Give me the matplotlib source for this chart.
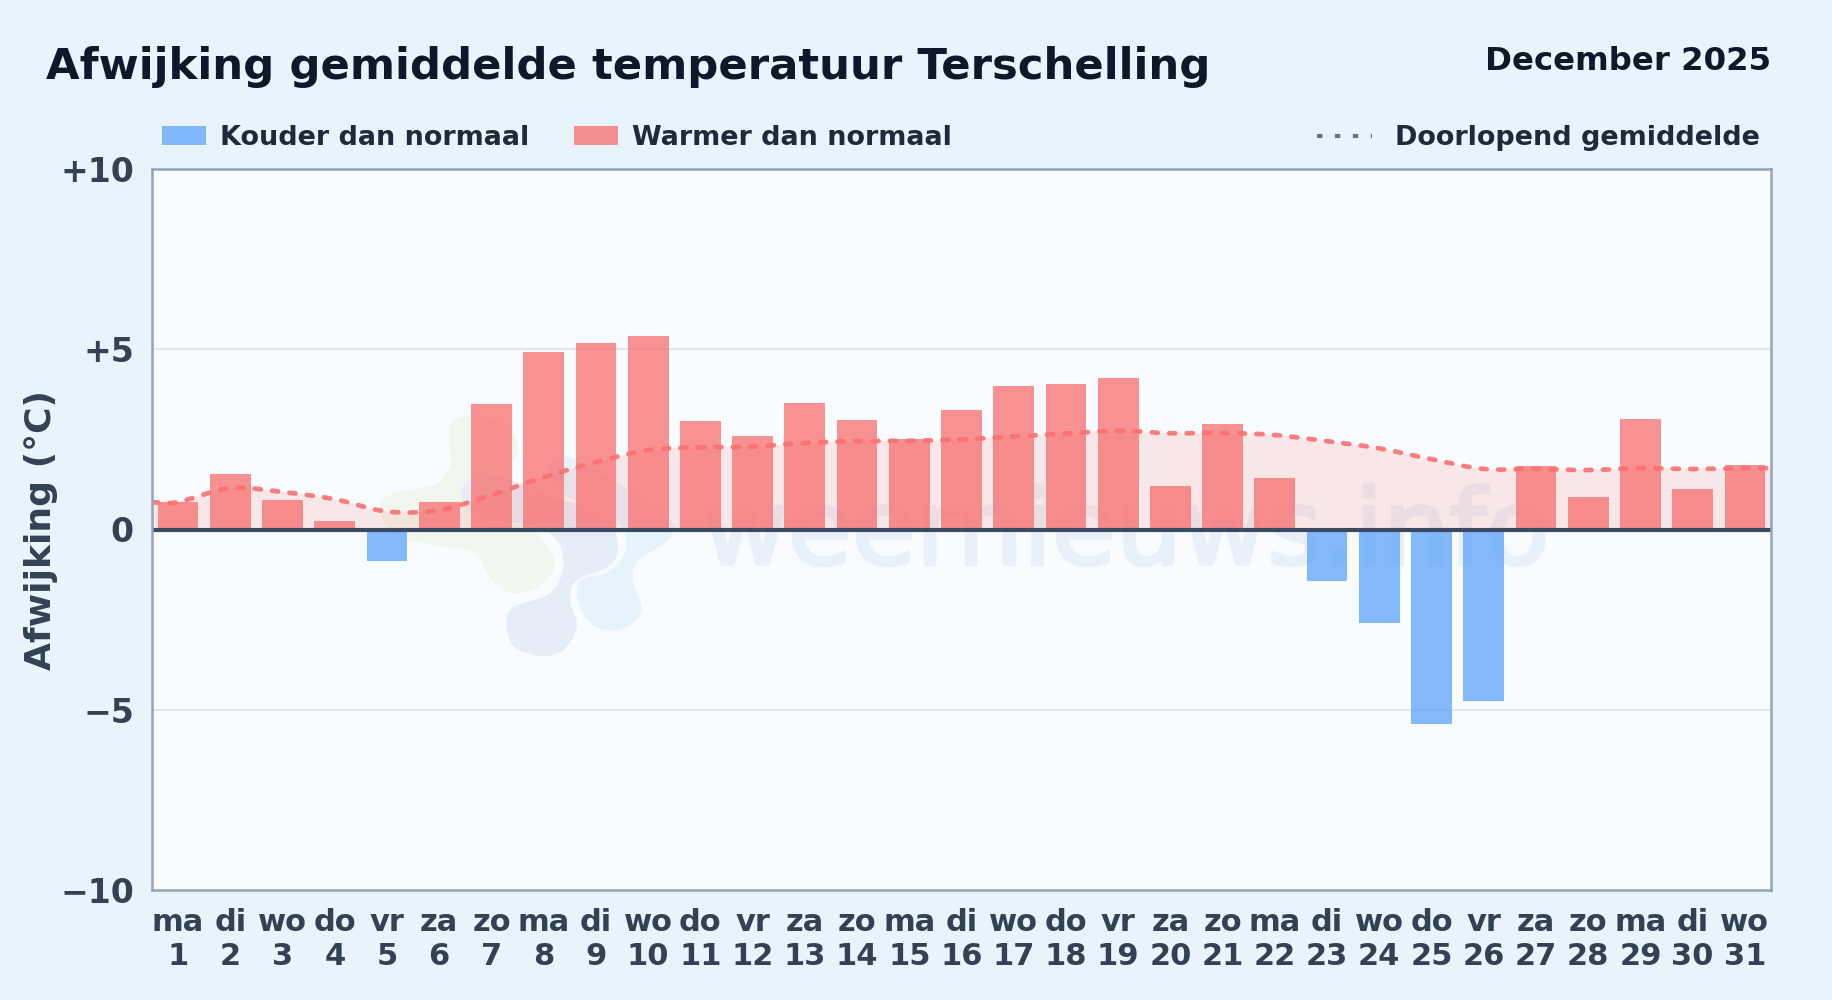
import matplotlib
matplotlib.use('Agg')
import matplotlib.pyplot as plt
import matplotlib.patheffects as pe
from matplotlib.lines import Line2D
from matplotlib.patches import Patch, PathPatch
from matplotlib.path import Path

days = ['ma', 'di', 'wo', 'do', 'vr', 'za', 'zo', 'ma', 'di', 'wo', 'do', 'vr', 'za', 'zo', 'ma', 'di',
        'wo', 'do', 'vr', 'za', 'zo', 'ma', 'di', 'wo', 'do', 'vr', 'za', 'zo', 'ma', 'di', 'wo']
dates = list(range(1, 32))

# afwijking per dag
deviation = [0.76, 1.54, 0.83, 0.24, -0.86, 0.76, 3.48, 4.91, 5.18, 5.36, 3.01, 2.59, 3.52, 3.05, 2.51, 3.32,
             3.99, 4.03, 4.20, 1.22, 2.92, 1.44, -1.44, -2.60, -5.40, -4.75, 1.77, 0.89, 3.06, 1.12, 1.80]

# doorlopend gemiddelde
running = [0.76, 1.15, 1.04, 0.84, 0.50, 0.54, 0.96, 1.45, 1.87, 2.20, 2.28, 2.30, 2.40, 2.45, 2.46, 2.50,
           2.58, 2.66, 2.74, 2.67, 2.68, 2.62, 2.45, 2.25, 1.95, 1.68, 1.68, 1.65, 1.70, 1.68, 1.70]

y_ticks = [-10, -5, 0, 5, 10]
y_labels = ['\u221210', '\u22125', '0', '+5', '+10']

BLUE = '#60A5FA'
RED = '#F87171'
TEXT_DARK = '#0F172A'
TEXT_LEGEND = '#1E293B'
TEXT_AXIS = '#334155'

W, H = 1832, 1000


def smooth_vertices(xs, ys):
    # catmull-rom door de punten, als bezier segmenten
    verts = [(xs[0], ys[0])]
    codes = [Path.MOVETO]
    for i in range(len(xs) - 1):
        x0, y0 = xs[max(i - 1, 0)], ys[max(i - 1, 0)]
        x3, y3 = xs[min(i + 2, len(xs) - 1)], ys[min(i + 2, len(xs) - 1)]
        verts += [(xs[i] + (xs[i + 1] - x0) / 6, ys[i] + (ys[i + 1] - y0) / 6),
                  (xs[i + 1] - (x3 - xs[i]) / 6, ys[i + 1] - (y3 - ys[i]) / 6),
                  (xs[i + 1], ys[i + 1])]
        codes += [Path.CURVE4] * 3
    return verts, codes


def blob(points, color):
    # logo in de achtergrond, punten als pixels in de zoom-uitsnede
    pts = [(300 + px / 2.24, 380 + py / 3) for px, py in points]
    pts = pts[-1:] + pts + pts[:2]
    xs = [p[0] / W for p in pts]
    ys = [1 - p[1] / H for p in pts]
    verts, codes = smooth_vertices(xs, ys)
    patch = PathPatch(Path(verts[3:-3], [Path.MOVETO] + codes[4:-3]), transform=fig.transFigure,
                      facecolor=color, edgecolor='none', zorder=1.2)
    ax.add_patch(patch)


fig = plt.figure(figsize=(W / 100, H / 100), dpi=100, facecolor='#E8F3FC')
ax = fig.add_axes([152 / W, 1 - 890 / H, 1619 / W, 721 / H], facecolor='#F8FCFF')

x = list(range(31))
colors = [RED if v >= 0 else BLUE for v in deviation]
ax.bar(x, deviation, width=0.78, color=colors, alpha=0.77, linewidth=0, zorder=3)

# lijn loopt door tot aan de randen
line_x = [-0.5] + x + [30.5]
line_y = [running[0]] + running + [running[-1]]
verts, codes = smooth_vertices(line_x, line_y)

fill_verts = verts + [(30.5, 0), (-0.5, 0), (-0.5, line_y[0])]
fill_codes = codes + [Path.LINETO, Path.LINETO, Path.CLOSEPOLY]
ax.add_patch(PathPatch(Path(fill_verts, fill_codes), facecolor=RED, edgecolor='none', alpha=0.15, zorder=2))
ax.add_patch(PathPatch(Path(verts, codes), facecolor='none', edgecolor=RED, lw=3.4, alpha=0.9,
                       linestyle=(0, (1.3, 2.4)), capstyle='round', zorder=5))

ax.axhline(0, color='#3B4A60', lw=3.0, zorder=6)
for v in [-5, 5]:
    ax.axhline(v, color='#DFE6EE', lw=1.5, zorder=1)

# watermerk
ax.text(0.34, 0.452, 'weernieuws.info', transform=ax.transAxes, fontsize=75, color='#E8F0F9',
        ha='left', va='baseline', zorder=1.1,
        path_effects=[pe.withStroke(linewidth=2.5, foreground='#E8F0F9')])
blob([(340, 130), (395, 105), (470, 150), (488, 220), (450, 300), (520, 440), (570, 540), (545, 610), (480, 640),
      (430, 600), (390, 520), (300, 495), (240, 480), (190, 430), (180, 370), (220, 335), (300, 315), (335, 260),
      (335, 180)], '#F1F7EE')
blob([(462, 730), (480, 680), (560, 640), (590, 560), (575, 480), (520, 435), (420, 420), (370, 380), (365, 320),
      (410, 285), (470, 300), (560, 350), (680, 400), (712, 500), (690, 560), (620, 600), (605, 660), (620, 740),
      (590, 810), (540, 828), (480, 800)], '#E5EEF7')
blob([(600, 230), (640, 260), (740, 330), (830, 420), (825, 480), (760, 540), (745, 600), (765, 680), (745, 730),
      (700, 752), (650, 730), (622, 660), (630, 600), (690, 575), (730, 510), (710, 420), (600, 350), (560, 300),
      (565, 250)], '#E6F3FC')

ax.set_xlim(-0.5, 30.5)
ax.set_ylim(-10, 10)
ax.set_yticks(y_ticks)
ax.set_yticklabels(y_labels, fontsize=23.9, fontweight='bold', color=TEXT_AXIS)
ax.set_xticks(x)
ax.set_xticklabels([f'{d}\n{n}' for d, n in zip(days, dates)], fontsize=22, fontweight='bold', color=TEXT_AXIS,
                   linespacing=1.2)
ax.tick_params(axis='y', length=0, pad=13)
ax.tick_params(axis='x', length=0, pad=13)
ax.set_ylabel('Afwijking (°C)', fontsize=26, fontweight='bold', color=TEXT_AXIS, labelpad=0)
ax.yaxis.set_label_coords(-0.0583, 0.5)

for side in ax.spines.values():
    side.set_color('#94A3B8')
    side.set_linewidth(1.8)
    side.set_zorder(7)

fig.text(46 / W, 1 - 67 / H, 'Afwijking gemiddelde temperatuur Terschelling', fontsize=31.2, fontweight='bold',
         color=TEXT_DARK, ha='left', va='center')
fig.text(1771 / W, 1 - 61 / H, 'December 2025', fontsize=23.3, fontweight='bold', color=TEXT_DARK,
         ha='right', va='center')

left_handles = [Patch(facecolor=BLUE, alpha=0.77, label='Kouder dan normaal'),
                Patch(facecolor=RED, alpha=0.77, label='Warmer dan normaal')]
leg = ax.legend(handles=left_handles, loc='lower left', bbox_to_anchor=(10 / 1619, 1 + 18 / 721), ncol=2,
                frameon=False, borderpad=0, borderaxespad=0, handlelength=1.63, handleheight=0.71,
                handletextpad=0.5, columnspacing=1.68,
                prop={'size': 19.45, 'weight': 'bold'}, labelcolor=TEXT_LEGEND)
ax.add_artist(leg)
right_handle = [Line2D([0], [0], color='#64748B', lw=3, linestyle=(0, (1.3, 3.0)), label='Doorlopend gemiddelde')]
ax.legend(handles=right_handle, loc='lower right', bbox_to_anchor=(1 - 11 / 1619, 1 + 18 / 721), frameon=False,
          borderpad=0, borderaxespad=0, handlelength=2.05, handletextpad=0.85,
          prop={'size': 19.45, 'weight': 'bold'}, labelcolor=TEXT_LEGEND)

fig.savefig('out.png', dpi=100, facecolor=fig.get_facecolor())
